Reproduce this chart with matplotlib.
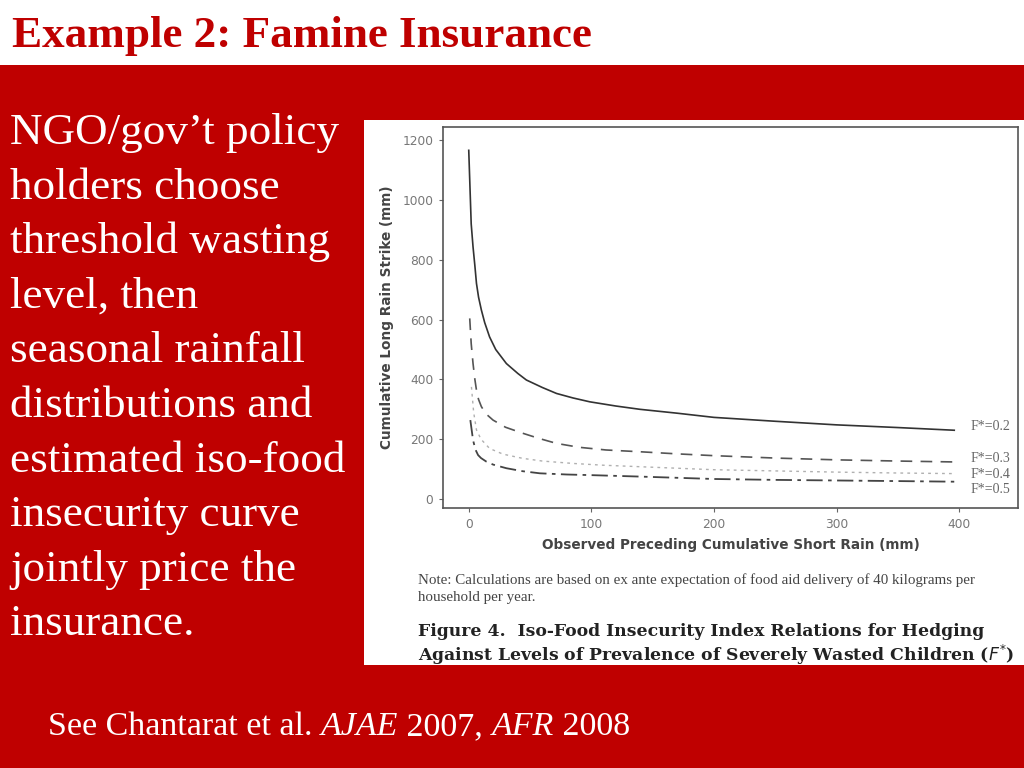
import matplotlib
matplotlib.use("Agg")
import matplotlib.pyplot as plt
from matplotlib.patches import Rectangle

W, H = 1024, 768
RED = "#BF0000"

# --- data ---
x_02 = [0, 2, 3.5, 5, 6.3, 8, 10.3, 13, 17, 22, 30.7, 40, 47, 60, 71.6, 85, 98.8,
        120, 139.6, 170, 200, 250, 300, 350, 396]
y_02 = [1166, 920, 843, 780, 721, 675, 632, 590, 542, 500, 453, 420, 398, 373, 353,
        338, 325, 311, 300, 287, 273, 260, 248, 239, 230]
x_03 = [0.8, 2, 3.5, 5, 6.3, 8, 10.3, 14, 19.8, 30, 44, 57, 71.6, 90, 112, 140, 170,
        200, 250, 300, 350, 396]
y_03 = [604, 520, 453, 400, 364, 333, 309, 285, 264, 240, 220, 203, 186, 173, 164,
        158, 151, 145, 137, 131, 127, 124]
x_04 = [2.2, 4, 6.3, 10, 17, 28, 44, 60, 85, 110, 140, 200, 250, 300, 350, 396]
y_04 = [375, 290, 231, 200, 169, 150, 136, 127, 119, 113, 108, 98, 94, 90, 87, 85]
x_05 = [1.3, 3.5, 5.5, 7.6, 10, 14.4, 20, 30.7, 44, 58, 80, 99, 140, 200, 250, 300,
        350, 396]
y_05 = [264, 197, 165, 147, 137, 125, 115, 103, 93, 86, 82, 80, 75, 67, 64, 62, 60, 58]
curve_labels = ["F*=0.2", "F*=0.3", "F*=0.4", "F*=0.5"]
label_y = [244, 134, 82, 32]

x_ticks = [0, 100, 200, 300, 400]
y_ticks = [0, 200, 400, 600, 800, 1000, 1200]

bullet_lines = ["NGO/gov\u2019t policy", "holders choose", "threshold wasting",
                "level, then", "seasonal rainfall", "distributions and",
                "estimated iso-food", "insecurity curve", "jointly price the",
                "insurance."]


def fx(px):
    return px / W


def fy(py):
    return 1 - py / H


fig = plt.figure(figsize=(W / 100, H / 100), dpi=100, facecolor=RED)

# white title band and white picture area (behind the axes)
fig.patches.append(Rectangle((0, fy(65)), 1, 65 / H, transform=fig.transFigure,
                             facecolor="white", edgecolor="none", zorder=-2))
fig.patches.append(Rectangle((fx(364), fy(665)), (1024 - 364) / W, (665 - 120) / H,
                             transform=fig.transFigure, facecolor="white",
                             edgecolor="none", zorder=-2))

fig.text(fx(12), fy(36), "Example 2: Famine Insurance", color=RED,
         family="Liberation Serif", fontweight="bold", fontsize=32.5,
         va="center", ha="left")

for i, line in enumerate(bullet_lines):
    fig.text(fx(10), fy(133 + i * 54.6), line, color="white",
             family="Liberation Serif", fontsize=32.5, va="center", ha="left")

# bottom reference line with italic journal names
renderer = fig.canvas.get_renderer()
pieces = [("See Chantarat et al. ", "normal"), ("AJAE", "italic"),
          (" 2007, ", "normal"), ("AFR", "italic"), (" 2008", "normal")]
cur_x = 48
for txt, style in pieces:
    t = fig.text(fx(cur_x), fy(727), txt, color="white", family="Liberation Serif",
                 fontsize=24.5, style=style, va="center", ha="left")
    cur_x += t.get_window_extent(renderer).width

# --- the chart ---
ax = fig.add_axes([fx(443), fy(508), (1018 - 443) / W, (508 - 127) / H])
ax.plot(x_02, y_02, color="#333333", lw=1.2, ls="-")
ax.plot(x_03, y_03, color="#555555", lw=1.2, ls=(0, (7, 5)))
ax.plot(x_04, y_04, color="#b0b0b0", lw=1.0, ls=(0, (2, 3)))
ax.plot(x_05, y_05, color="#444444", lw=1.3, ls=(0, (9, 3, 2, 3)))
for lab, ly in zip(curve_labels, label_y):
    ax.text(409, ly, lab, family="Liberation Serif", fontsize=10, color="#666666",
            va="center", ha="left")

ax.set_xlim(-21, 448)
ax.set_ylim(-30, 1244)
ax.set_xticks(x_ticks)
ax.set_yticks(y_ticks)
ax.tick_params(labelsize=8.8, labelcolor="#777777", color="#666666", length=3,
               direction="out", pad=4)
for s in ax.spines.values():
    s.set_color("#555555")
    s.set_linewidth(1.2)
ax.set_xlabel("Observed Preceding Cumulative Short Rain (mm)", fontsize=9.8,
              fontweight="bold", color="#444444", labelpad=5)
ax.set_ylabel("Cumulative Long Rain Strike (mm)", fontsize=9.8,
              fontweight="bold", color="#444444", labelpad=6)

fig.text(fx(418), fy(580), "Note: Calculations are based on ex ante expectation of "
         "food aid delivery of 40 kilograms per", family="Liberation Serif",
         fontsize=10.8, color="#444444", va="center", ha="left")
fig.text(fx(418), fy(598), "household per year.", family="Liberation Serif",
         fontsize=10.8, color="#444444", va="center", ha="left")
fig.text(fx(418), fy(632), "Figure 4.  Iso-Food Insecurity Index Relations for Hedging",
         family="DejaVu Serif", fontweight="bold", fontsize=12.4, color="#222222",
         va="center", ha="left")
fig.text(fx(418), fy(655), "Against Levels of Prevalence of Severely Wasted Children ($F^{*}$)",
         family="DejaVu Serif", fontweight="bold", fontsize=12.4, color="#222222",
         va="center", ha="left")

fig.savefig("out.png", dpi=100, facecolor=RED)
